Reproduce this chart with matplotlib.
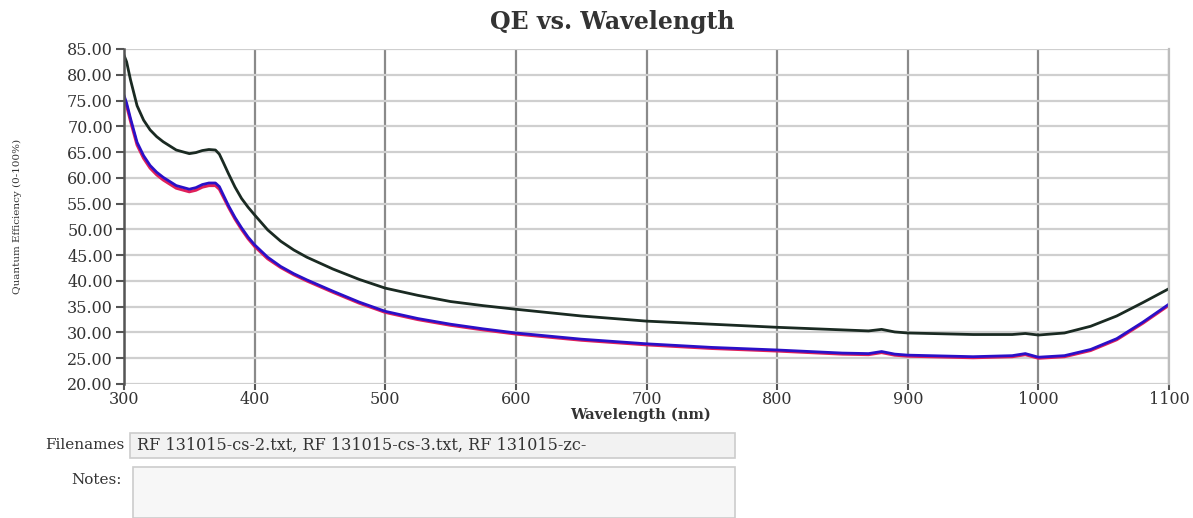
import matplotlib
matplotlib.use('Agg')
import matplotlib.pyplot as plt
from matplotlib.patches import Rectangle

# wavelength (nm) and QE (%)
wl = [300, 302, 305, 310, 315, 320, 325, 330, 340, 350, 355, 360, 365, 370, 373,
      376, 380, 385, 390, 395, 400, 410, 420, 430, 440, 460, 480, 500, 525, 550,
      575, 600, 650, 700, 750, 800, 850, 870, 880, 890, 900, 950, 980, 990, 1000,
      1020, 1040, 1060, 1080, 1100]
qe_zc = [83.8, 82.5, 79.0, 74.0, 71.2, 69.3, 68.0, 67.0, 65.4, 64.7, 64.9, 65.3,
         65.5, 65.4, 64.6, 63.0, 60.8, 58.2, 56.0, 54.3, 52.8, 49.9, 47.7, 46.0,
         44.6, 42.3, 40.3, 38.6, 37.2, 36.0, 35.2, 34.5, 33.2, 32.2, 31.6, 31.0,
         30.5, 30.3, 30.6, 30.1, 29.9, 29.6, 29.6, 29.8, 29.5, 29.9, 31.2, 33.2,
         35.8, 38.5]
qe_cs2 = [75.6, 74.0, 71.0, 66.4, 63.8, 61.9, 60.6, 59.6, 58.0, 57.3, 57.6, 58.2,
          58.5, 58.5, 57.8, 56.3, 54.3, 52.0, 50.0, 48.2, 46.7, 44.3, 42.6, 41.2,
          40.0, 37.8, 35.7, 33.9, 32.5, 31.4, 30.5, 29.7, 28.5, 27.6, 26.9, 26.4,
          25.8, 25.7, 26.1, 25.6, 25.4, 25.1, 25.3, 25.7, 25.0, 25.3, 26.5, 28.6,
          31.8, 35.3]
qe_cs3 = [76.0, 74.5, 71.5, 66.9, 64.3, 62.4, 61.1, 60.1, 58.5, 57.8, 58.1, 58.7,
          59.0, 59.0, 58.3, 56.7, 54.6, 52.3, 50.3, 48.5, 47.0, 44.6, 42.8, 41.4,
          40.2, 38.0, 35.9, 34.1, 32.7, 31.6, 30.7, 29.9, 28.7, 27.8, 27.1, 26.6,
          26.0, 25.9, 26.3, 25.8, 25.6, 25.3, 25.5, 25.9, 25.2, 25.5, 26.7, 28.8,
          32.0, 35.5]
x_ticks = [300, 400, 500, 600, 700, 800, 900, 1000, 1100]
y_ticks = [20, 25, 30, 35, 40, 45, 50, 55, 60, 65, 70, 75, 80, 85]
files_text = 'RF 131015-cs-2.txt, RF 131015-cs-3.txt, RF 131015-zc-'

plt.rcParams['font.family'] = ['DejaVu Serif']

W, H = 1193, 518
fig = plt.figure(figsize=(W / 100, H / 100), dpi=100)
ax = fig.add_axes([124 / W, 1 - 384 / H, (1169 - 124) / W, (384 - 49) / H])

ax.plot(wl, qe_cs2, color='#e0205a', lw=2.2)
ax.plot(wl, qe_cs3, color='#2a10c8', lw=2.0)
ax.plot(wl, qe_zc, color='#1a2a22', lw=2.0)

ax.set_xlim(300, 1100)
ax.set_ylim(20, 85)
ax.set_xticks(x_ticks)
ax.set_yticks(y_ticks)
ax.set_yticklabels(['%.2f' % v for v in y_ticks])
ax.xaxis.grid(True, color='#8a8a8a', lw=1.6)
ax.yaxis.grid(True, color='#cfcfcf', lw=1.6)
ax.set_axisbelow(True)
for s in ['top', 'bottom']:
    ax.spines[s].set_visible(False)
ax.spines['right'].set_color('#bdbdbd')
ax.spines['right'].set_linewidth(1.6)
ax.spines['left'].set_color('#555555')
ax.spines['left'].set_linewidth(1.8)
ax.tick_params(axis='y', length=6, width=1.5, color='#555555', labelsize=11.5,
               labelcolor='#333333', pad=2)
ax.tick_params(axis='x', length=4, width=1.5, color='#555555', labelsize=11.5,
               labelcolor='#333333', pad=1)

fig.text(612 / W, 1 - 22 / H, 'QE vs. Wavelength', ha='center', va='center',
         fontsize=17, fontweight='bold', color='#333333')
fig.text(640 / W, 1 - 415 / H, 'Wavelength (nm)', ha='center', va='center',
         fontsize=10.5, fontweight='bold', color='#333333')
fig.text(17 / W, 1 - 216 / H, 'Quantum Efficiency (0-100%)', ha='center',
         va='center', rotation=90, fontsize=7.5, color='#333333')

# file info panel below the chart
fig.patches.append(Rectangle((130 / W, 1 - 458 / H), 605 / W, 25 / H,
                             transform=fig.transFigure, facecolor='#f2f2f2',
                             edgecolor='#cccccc', lw=1.2))
fig.patches.append(Rectangle((133 / W, 0), 602 / W, (518 - 467) / H,
                             transform=fig.transFigure, facecolor='#f7f7f7',
                             edgecolor='#cccccc', lw=1.2))
fig.text(124 / W, 1 - 445 / H, 'Filenames', ha='right', va='center',
         fontsize=11, color='#333333')
fig.text(137 / W, 1 - 445 / H, files_text, ha='left', va='center',
         fontsize=11.5, color='#333333')
fig.text(122 / W, 1 - 480 / H, 'Notes:', ha='right', va='center',
         fontsize=11, color='#333333')

fig.savefig('out.png', dpi=100)
